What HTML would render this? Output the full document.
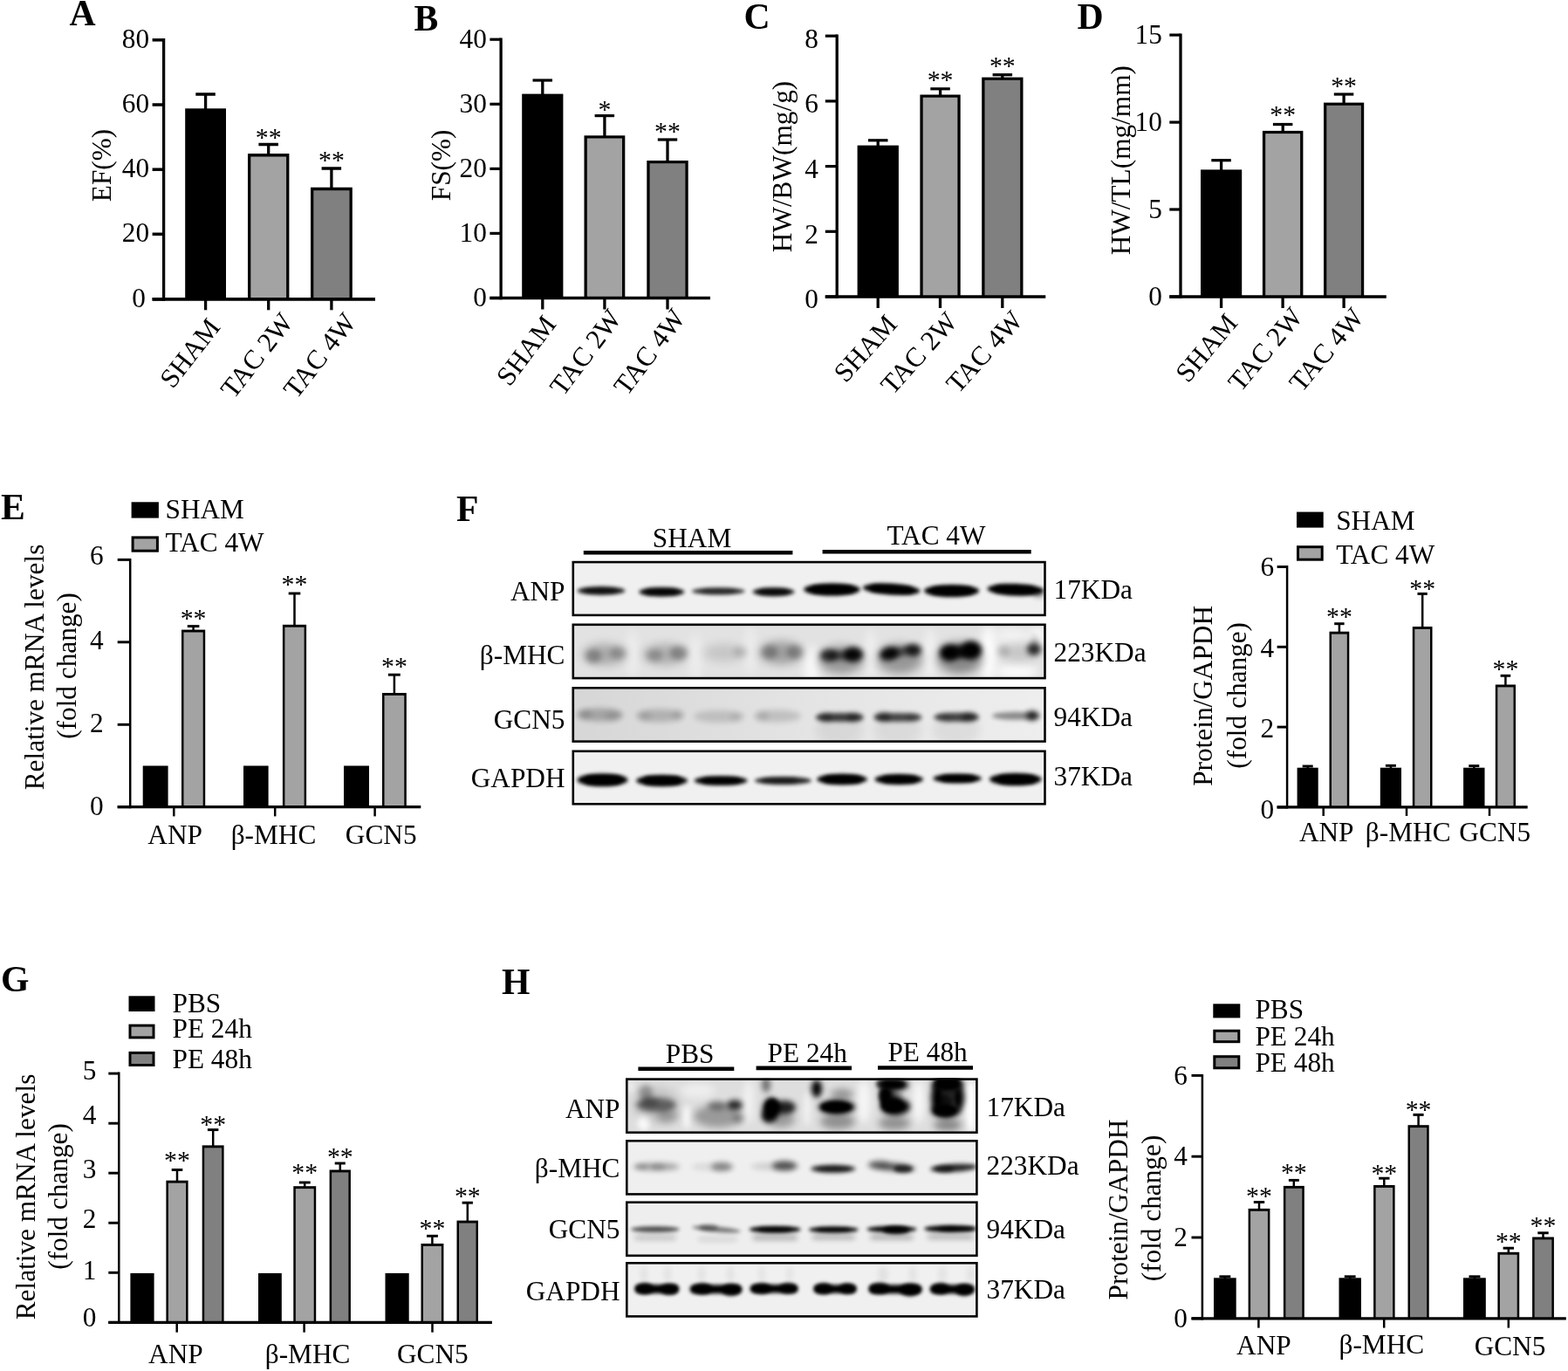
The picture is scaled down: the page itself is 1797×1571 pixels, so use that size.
<!DOCTYPE html>
<html lang="en"><head><meta charset="utf-8"><title>Figure</title>
<style>
html,body{margin:0;padding:0;background:#fff;}
body{width:1797px;height:1571px;overflow:hidden;}
svg{display:block;}
svg text{font-family:"Liberation Serif",serif;fill:#000;}
</style></head>
<body>
<svg width="1797" height="1571" viewBox="0 0 1797 1571">
<defs>
<filter id="b1" x="-50%" y="-300%" width="200%" height="700%"><feGaussianBlur stdDeviation="1.3"/></filter>
<filter id="b2" x="-50%" y="-300%" width="200%" height="700%"><feGaussianBlur stdDeviation="2"/></filter>
<filter id="b2_5" x="-50%" y="-300%" width="200%" height="700%"><feGaussianBlur stdDeviation="2.5"/></filter>
<filter id="b3" x="-80%" y="-300%" width="260%" height="700%"><feGaussianBlur stdDeviation="3"/></filter>
<filter id="b4" x="-100%" y="-300%" width="300%" height="700%"><feGaussianBlur stdDeviation="4"/></filter>
<filter id="b5" x="-150%" y="-300%" width="400%" height="700%"><feGaussianBlur stdDeviation="5.5"/></filter>
<linearGradient id="gF3" x1="0" x2="1" y1="0" y2="0"><stop offset="0" stop-color="#d6d6d6"/><stop offset="0.5" stop-color="#e4e4e4"/><stop offset="1" stop-color="#eeeeee"/></linearGradient>
</defs>
<rect width="1797" height="1571" fill="#fff"/>
<text x="79.5" y="29.0" font-size="41.7" text-anchor="start" font-weight="bold">A</text>
<line x1="235.6" y1="108.0" x2="235.6" y2="125.3" stroke="#000" stroke-width="3.3"/>
<line x1="224.3" y1="108.0" x2="246.8" y2="108.0" stroke="#000" stroke-width="3.496"/>
<rect x="212.2" y="124.3" width="46.8" height="218.5" fill="#000"/>
<line x1="307.7" y1="165.5" x2="307.7" y2="177.0" stroke="#000" stroke-width="3.3"/>
<line x1="296.4" y1="165.5" x2="318.9" y2="165.5" stroke="#000" stroke-width="3.496"/>
<rect x="284.0" y="176.0" width="47.4" height="166.8" fill="#000"/>
<rect x="287.3" y="179.5" width="40.8" height="163.3" fill="#a3a3a3"/>
<text x="307.7" y="166.9" font-size="29.8" text-anchor="middle">**</text>
<line x1="379.9" y1="193.0" x2="379.9" y2="215.7" stroke="#000" stroke-width="3.3"/>
<line x1="368.6" y1="193.0" x2="391.1" y2="193.0" stroke="#000" stroke-width="3.496"/>
<rect x="356.0" y="214.7" width="47.8" height="128.1" fill="#000"/>
<rect x="359.3" y="218.2" width="41.2" height="124.6" fill="#808080"/>
<text x="379.9" y="193.2" font-size="29.8" text-anchor="middle">**</text>
<line x1="187.6" y1="44.1" x2="187.6" y2="344.7" stroke="#000" stroke-width="3.3"/>
<line x1="174.6" y1="342.8" x2="430.0" y2="342.8" stroke="#000" stroke-width="3.8"/>
<line x1="174.6" y1="45.8" x2="187.6" y2="45.8" stroke="#000" stroke-width="3.496"/>
<text x="171.1" y="54.9" font-size="31.3" text-anchor="end">80</text>
<line x1="174.6" y1="120.0" x2="187.6" y2="120.0" stroke="#000" stroke-width="3.496"/>
<text x="171.1" y="129.1" font-size="31.3" text-anchor="end">60</text>
<line x1="174.6" y1="194.2" x2="187.6" y2="194.2" stroke="#000" stroke-width="3.496"/>
<text x="171.1" y="203.3" font-size="31.3" text-anchor="end">40</text>
<line x1="174.6" y1="268.3" x2="187.6" y2="268.3" stroke="#000" stroke-width="3.496"/>
<text x="171.1" y="277.4" font-size="31.3" text-anchor="end">20</text>
<line x1="174.6" y1="342.8" x2="187.6" y2="342.8" stroke="#000" stroke-width="3.496"/>
<text x="166.8" y="351.9" font-size="31.3" text-anchor="end">0</text>
<line x1="235.6" y1="342.8" x2="235.6" y2="355.3" stroke="#000" stroke-width="3.3"/>
<line x1="307.7" y1="342.8" x2="307.7" y2="355.3" stroke="#000" stroke-width="3.3"/>
<line x1="379.9" y1="342.8" x2="379.9" y2="355.3" stroke="#000" stroke-width="3.3"/>
<text x="126.8" y="189.5" font-size="31.3" text-anchor="middle" transform="rotate(-90 126.8 189.5)">EF(%)</text>
<text x="253.6" y="375.3" font-size="31.3" text-anchor="end" transform="rotate(-52 253.6 375.3)">SHAM</text>
<text x="337.3" y="369.1" font-size="31.3" text-anchor="end" transform="rotate(-52 337.3 369.1)">TAC 2W</text>
<text x="409.5" y="369.1" font-size="31.3" text-anchor="end" transform="rotate(-52 409.5 369.1)">TAC 4W</text>
<text x="474.5" y="35.2" font-size="41.7" text-anchor="start" font-weight="bold">B</text>
<line x1="621.8" y1="92.0" x2="621.8" y2="108.6" stroke="#000" stroke-width="3.3"/>
<line x1="610.5" y1="92.0" x2="633.0" y2="92.0" stroke="#000" stroke-width="3.22"/>
<rect x="598.2" y="107.6" width="47.2" height="233.9" fill="#000"/>
<line x1="692.9" y1="132.6" x2="692.9" y2="156.3" stroke="#000" stroke-width="3.3"/>
<line x1="681.6" y1="132.6" x2="704.1" y2="132.6" stroke="#000" stroke-width="3.22"/>
<rect x="669.5" y="155.3" width="46.8" height="186.2" fill="#000"/>
<rect x="672.8" y="158.5" width="40.2" height="183.0" fill="#a3a3a3"/>
<text x="692.9" y="135.2" font-size="29.8" text-anchor="middle">*</text>
<line x1="765.0" y1="160.0" x2="765.0" y2="185.0" stroke="#000" stroke-width="3.3"/>
<line x1="753.8" y1="160.0" x2="776.2" y2="160.0" stroke="#000" stroke-width="3.22"/>
<rect x="741.3" y="184.0" width="47.4" height="157.5" fill="#000"/>
<rect x="744.6" y="187.2" width="40.8" height="154.3" fill="#808080"/>
<text x="765.0" y="160.2" font-size="29.8" text-anchor="middle">**</text>
<line x1="574.1" y1="43.6" x2="574.1" y2="343.2" stroke="#000" stroke-width="3.3"/>
<line x1="561.4" y1="341.5" x2="814.0" y2="341.5" stroke="#000" stroke-width="3.5"/>
<line x1="561.4" y1="45.2" x2="574.1" y2="45.2" stroke="#000" stroke-width="3.22"/>
<text x="557.9" y="54.5" font-size="31.3" text-anchor="end">40</text>
<line x1="561.4" y1="119.3" x2="574.1" y2="119.3" stroke="#000" stroke-width="3.22"/>
<text x="557.9" y="128.6" font-size="31.3" text-anchor="end">30</text>
<line x1="561.4" y1="193.4" x2="574.1" y2="193.4" stroke="#000" stroke-width="3.22"/>
<text x="557.9" y="202.7" font-size="31.3" text-anchor="end">20</text>
<line x1="561.4" y1="267.4" x2="574.1" y2="267.4" stroke="#000" stroke-width="3.22"/>
<text x="557.9" y="276.7" font-size="31.3" text-anchor="end">10</text>
<line x1="561.4" y1="341.5" x2="574.1" y2="341.5" stroke="#000" stroke-width="3.22"/>
<text x="557.9" y="350.8" font-size="31.3" text-anchor="end">0</text>
<line x1="621.8" y1="341.5" x2="621.8" y2="354.5" stroke="#000" stroke-width="3.3"/>
<line x1="692.9" y1="341.5" x2="692.9" y2="354.5" stroke="#000" stroke-width="3.3"/>
<line x1="765.0" y1="341.5" x2="765.0" y2="354.5" stroke="#000" stroke-width="3.3"/>
<text x="515.7" y="189.4" font-size="31.3" text-anchor="middle" transform="rotate(-90 515.7 189.4)">FS(%)</text>
<text x="638.4" y="371.7" font-size="31.3" text-anchor="end" transform="rotate(-53 638.4 371.7)">SHAM</text>
<text x="713.4" y="365.0" font-size="31.3" text-anchor="end" transform="rotate(-53 713.4 365.0)">TAC 2W</text>
<text x="786.5" y="364.5" font-size="31.3" text-anchor="end" transform="rotate(-53 786.5 364.5)">TAC 4W</text>
<text x="852.5" y="33.4" font-size="41.7" text-anchor="start" font-weight="bold">C</text>
<line x1="1006.2" y1="160.8" x2="1006.2" y2="167.6" stroke="#000" stroke-width="3.3"/>
<line x1="995.0" y1="160.8" x2="1017.5" y2="160.8" stroke="#000" stroke-width="3.22"/>
<rect x="982.6" y="166.6" width="47.3" height="173.4" fill="#000"/>
<line x1="1077.6" y1="101.8" x2="1077.6" y2="109.5" stroke="#000" stroke-width="3.3"/>
<line x1="1066.3" y1="101.8" x2="1088.8" y2="101.8" stroke="#000" stroke-width="3.22"/>
<rect x="1054.4" y="108.5" width="46.3" height="231.5" fill="#000"/>
<rect x="1057.7" y="111.7" width="39.7" height="228.3" fill="#a3a3a3"/>
<text x="1077.6" y="101.2" font-size="29.8" text-anchor="middle">**</text>
<line x1="1148.8" y1="85.7" x2="1148.8" y2="89.6" stroke="#000" stroke-width="3.3"/>
<line x1="1137.6" y1="85.7" x2="1160.1" y2="85.7" stroke="#000" stroke-width="3.22"/>
<rect x="1125.2" y="88.6" width="47.3" height="251.4" fill="#000"/>
<rect x="1128.5" y="91.8" width="40.7" height="248.2" fill="#808080"/>
<text x="1148.8" y="84.5" font-size="29.8" text-anchor="middle">**</text>
<line x1="959.2" y1="39.6" x2="959.2" y2="341.8" stroke="#000" stroke-width="3.3"/>
<line x1="945.8" y1="340.0" x2="1198.3" y2="340.0" stroke="#000" stroke-width="3.5"/>
<line x1="945.8" y1="41.2" x2="959.2" y2="41.2" stroke="#000" stroke-width="3.22"/>
<text x="937.8" y="54.5" font-size="31.3" text-anchor="end">8</text>
<line x1="945.8" y1="115.9" x2="959.2" y2="115.9" stroke="#000" stroke-width="3.22"/>
<text x="937.8" y="129.2" font-size="31.3" text-anchor="end">6</text>
<line x1="945.8" y1="190.6" x2="959.2" y2="190.6" stroke="#000" stroke-width="3.22"/>
<text x="937.8" y="203.9" font-size="31.3" text-anchor="end">4</text>
<line x1="945.8" y1="265.3" x2="959.2" y2="265.3" stroke="#000" stroke-width="3.22"/>
<text x="937.8" y="278.6" font-size="31.3" text-anchor="end">2</text>
<line x1="945.8" y1="340.0" x2="959.2" y2="340.0" stroke="#000" stroke-width="3.22"/>
<text x="937.8" y="353.3" font-size="31.3" text-anchor="end">0</text>
<line x1="1006.2" y1="340.0" x2="1006.2" y2="353.0" stroke="#000" stroke-width="3.3"/>
<line x1="1077.5" y1="340.0" x2="1077.5" y2="353.0" stroke="#000" stroke-width="3.3"/>
<line x1="1148.8" y1="340.0" x2="1148.8" y2="353.0" stroke="#000" stroke-width="3.3"/>
<text x="906.8" y="191.0" font-size="31.3" text-anchor="middle" transform="rotate(-90 906.8 191.0)">HW/BW(mg/g)</text>
<text x="1029.7" y="372.5" font-size="31.3" text-anchor="end" transform="rotate(-48 1029.7 372.5)">SHAM</text>
<text x="1098.7" y="369.5" font-size="31.3" text-anchor="end" transform="rotate(-48 1098.7 369.5)">TAC 2W</text>
<text x="1173.8" y="368.0" font-size="31.3" text-anchor="end" transform="rotate(-48 1173.8 368.0)">TAC 4W</text>
<text x="1234.5" y="33.0" font-size="41.7" text-anchor="start" font-weight="bold">D</text>
<line x1="1399.6" y1="183.7" x2="1399.6" y2="195.4" stroke="#000" stroke-width="3.3"/>
<line x1="1388.3" y1="183.7" x2="1410.8" y2="183.7" stroke="#000" stroke-width="3.22"/>
<rect x="1376.0" y="194.4" width="47.2" height="145.6" fill="#000"/>
<line x1="1470.2" y1="142.5" x2="1470.2" y2="150.9" stroke="#000" stroke-width="3.3"/>
<line x1="1458.9" y1="142.5" x2="1481.4" y2="142.5" stroke="#000" stroke-width="3.22"/>
<rect x="1446.9" y="149.9" width="46.5" height="190.1" fill="#000"/>
<rect x="1450.2" y="153.1" width="39.9" height="186.9" fill="#a3a3a3"/>
<text x="1470.2" y="140.6" font-size="29.8" text-anchor="middle">**</text>
<line x1="1540.1" y1="108.0" x2="1540.1" y2="118.6" stroke="#000" stroke-width="3.3"/>
<line x1="1528.8" y1="108.0" x2="1551.3" y2="108.0" stroke="#000" stroke-width="3.22"/>
<rect x="1517.0" y="117.6" width="46.2" height="222.4" fill="#000"/>
<rect x="1520.3" y="120.8" width="39.6" height="219.2" fill="#808080"/>
<text x="1540.1" y="108.3" font-size="29.8" text-anchor="middle">**</text>
<line x1="1353.0" y1="38.5" x2="1353.0" y2="341.8" stroke="#000" stroke-width="3.3"/>
<line x1="1340.3" y1="340.0" x2="1588.8" y2="340.0" stroke="#000" stroke-width="3.5"/>
<line x1="1340.3" y1="40.1" x2="1353.0" y2="40.1" stroke="#000" stroke-width="3.22"/>
<text x="1331.8" y="50.3" font-size="31.3" text-anchor="end">15</text>
<line x1="1340.3" y1="140.1" x2="1353.0" y2="140.1" stroke="#000" stroke-width="3.22"/>
<text x="1331.8" y="150.3" font-size="31.3" text-anchor="end">10</text>
<line x1="1340.3" y1="240.0" x2="1353.0" y2="240.0" stroke="#000" stroke-width="3.22"/>
<text x="1331.8" y="250.2" font-size="31.3" text-anchor="end">5</text>
<line x1="1340.3" y1="340.0" x2="1353.0" y2="340.0" stroke="#000" stroke-width="3.22"/>
<text x="1331.8" y="350.2" font-size="31.3" text-anchor="end">0</text>
<line x1="1399.6" y1="340.0" x2="1399.6" y2="353.0" stroke="#000" stroke-width="3.3"/>
<line x1="1470.1" y1="340.0" x2="1470.1" y2="353.0" stroke="#000" stroke-width="3.3"/>
<line x1="1540.1" y1="340.0" x2="1540.1" y2="353.0" stroke="#000" stroke-width="3.3"/>
<text x="1294.6" y="183.7" font-size="31.3" text-anchor="middle" transform="rotate(-90 1294.6 183.7)">HW/TL(mg/mm)</text>
<text x="1419.6" y="370.7" font-size="31.3" text-anchor="end" transform="rotate(-50 1419.6 370.7)">SHAM</text>
<text x="1494.4" y="363.5" font-size="31.3" text-anchor="end" transform="rotate(-50 1494.4 363.5)">TAC 2W</text>
<text x="1564.4" y="364.0" font-size="31.3" text-anchor="end" transform="rotate(-50 1564.4 364.0)">TAC 4W</text>
<text x="1.0" y="594.5" font-size="41.7" text-anchor="start" font-weight="bold">E</text>
<rect x="152.1" y="576.8" width="28.3" height="15.3" fill="#000" stroke="#000" stroke-width="3.0"/>
<text x="189.5" y="593.6" font-size="31.3" text-anchor="start">SHAM</text>
<rect x="152.1" y="615.9" width="28.3" height="15.3" fill="#a3a3a3" stroke="#000" stroke-width="3.0"/>
<text x="189.5" y="632.1" font-size="31.3" text-anchor="start">TAC 4W</text>
<rect x="163.7" y="877.5" width="28.9" height="47.2" fill="#000"/>
<line x1="221.6" y1="717.6" x2="221.6" y2="722.6" stroke="#000" stroke-width="2.5"/>
<line x1="214.8" y1="717.6" x2="228.4" y2="717.6" stroke="#000" stroke-width="2.9440000000000004"/>
<rect x="208.0" y="721.6" width="27.2" height="203.1" fill="#000"/>
<rect x="210.5" y="724.5" width="22.2" height="200.2" fill="#a3a3a3"/>
<text x="221.6" y="718.2" font-size="29.8" text-anchor="middle">**</text>
<rect x="279.0" y="877.5" width="28.6" height="47.2" fill="#000"/>
<line x1="337.5" y1="680.0" x2="337.5" y2="716.8" stroke="#000" stroke-width="2.5"/>
<line x1="330.7" y1="680.0" x2="344.3" y2="680.0" stroke="#000" stroke-width="2.9440000000000004"/>
<rect x="323.9" y="715.8" width="27.2" height="208.9" fill="#000"/>
<rect x="326.4" y="718.7" width="22.2" height="206.0" fill="#a3a3a3"/>
<text x="337.5" y="679.2" font-size="29.8" text-anchor="middle">**</text>
<rect x="394.0" y="877.5" width="29.0" height="47.2" fill="#000"/>
<line x1="451.9" y1="773.2" x2="451.9" y2="795.0" stroke="#000" stroke-width="2.5"/>
<line x1="444.9" y1="773.2" x2="458.8" y2="773.2" stroke="#000" stroke-width="2.9440000000000004"/>
<rect x="438.0" y="794.0" width="27.8" height="130.7" fill="#000"/>
<rect x="440.5" y="796.9" width="22.8" height="127.8" fill="#a3a3a3"/>
<text x="451.9" y="772.5" font-size="29.8" text-anchor="middle">**</text>
<line x1="149.2" y1="639.9" x2="149.2" y2="926.3" stroke="#000" stroke-width="2.5"/>
<line x1="134.7" y1="924.7" x2="482.3" y2="924.7" stroke="#000" stroke-width="3.2"/>
<line x1="134.7" y1="641.4" x2="149.2" y2="641.4" stroke="#000" stroke-width="2.9440000000000004"/>
<text x="118.7" y="646.8" font-size="31.3" text-anchor="end">6</text>
<line x1="134.7" y1="735.8" x2="149.2" y2="735.8" stroke="#000" stroke-width="2.9440000000000004"/>
<text x="118.7" y="743.5" font-size="31.3" text-anchor="end">4</text>
<line x1="134.7" y1="830.3" x2="149.2" y2="830.3" stroke="#000" stroke-width="2.9440000000000004"/>
<text x="118.7" y="838.7" font-size="31.3" text-anchor="end">2</text>
<line x1="134.7" y1="924.7" x2="149.2" y2="924.7" stroke="#000" stroke-width="2.9440000000000004"/>
<text x="118.7" y="934.4" font-size="31.3" text-anchor="end">0</text>
<line x1="199.3" y1="924.7" x2="199.3" y2="935.4" stroke="#000" stroke-width="2.5"/>
<line x1="315.2" y1="924.7" x2="315.2" y2="935.4" stroke="#000" stroke-width="2.5"/>
<line x1="429.6" y1="924.7" x2="429.6" y2="935.4" stroke="#000" stroke-width="2.5"/>
<text x="200.6" y="967.3" font-size="31.3" text-anchor="middle">ANP</text>
<text x="313.5" y="967.3" font-size="31.3" text-anchor="middle">β-MHC</text>
<text x="436.7" y="967.3" font-size="31.3" text-anchor="middle">GCN5</text>
<text x="49.9" y="764.5" font-size="31.3" text-anchor="middle" transform="rotate(-90 49.9 764.5)">Relative mRNA levels</text>
<text x="87.0" y="763.0" font-size="31.3" text-anchor="middle" transform="rotate(-90 87.0 763.0)">(fold change)</text>
<rect x="1487.5" y="588.1" width="27.7" height="15.0" fill="#000" stroke="#000" stroke-width="3.0"/>
<text x="1531.2" y="607.1" font-size="31.3" text-anchor="start">SHAM</text>
<rect x="1487.5" y="626.7" width="27.7" height="14.5" fill="#a3a3a3" stroke="#000" stroke-width="3.0"/>
<text x="1531.2" y="645.7" font-size="31.3" text-anchor="start">TAC 4W</text>
<line x1="1498.7" y1="878.0" x2="1498.7" y2="880.7" stroke="#000" stroke-width="2.5"/>
<line x1="1492.7" y1="878.0" x2="1504.7" y2="878.0" stroke="#000" stroke-width="2.9440000000000004"/>
<rect x="1486.6" y="879.7" width="24.1" height="45.2" fill="#000"/>
<line x1="1534.9" y1="714.7" x2="1534.9" y2="724.7" stroke="#000" stroke-width="2.5"/>
<line x1="1529.2" y1="714.7" x2="1540.6" y2="714.7" stroke="#000" stroke-width="2.9440000000000004"/>
<rect x="1523.5" y="723.7" width="22.8" height="201.2" fill="#000"/>
<rect x="1526.0" y="726.6" width="17.8" height="198.3" fill="#a3a3a3"/>
<text x="1534.9" y="715.5" font-size="29.8" text-anchor="middle">**</text>
<line x1="1593.9" y1="877.3" x2="1593.9" y2="880.7" stroke="#000" stroke-width="2.5"/>
<line x1="1587.9" y1="877.3" x2="1599.9" y2="877.3" stroke="#000" stroke-width="2.9440000000000004"/>
<rect x="1581.8" y="879.7" width="24.2" height="45.2" fill="#000"/>
<line x1="1630.2" y1="680.4" x2="1630.2" y2="719.0" stroke="#000" stroke-width="2.5"/>
<line x1="1624.5" y1="680.4" x2="1635.8" y2="680.4" stroke="#000" stroke-width="2.9440000000000004"/>
<rect x="1618.8" y="718.0" width="22.7" height="206.9" fill="#000"/>
<rect x="1621.3" y="720.9" width="17.7" height="204.0" fill="#a3a3a3"/>
<text x="1630.2" y="683.5" font-size="29.8" text-anchor="middle">**</text>
<line x1="1689.3" y1="877.6" x2="1689.3" y2="880.7" stroke="#000" stroke-width="2.5"/>
<line x1="1683.3" y1="877.6" x2="1695.3" y2="877.6" stroke="#000" stroke-width="2.9440000000000004"/>
<rect x="1677.1" y="879.7" width="24.4" height="45.2" fill="#000"/>
<line x1="1725.4" y1="774.3" x2="1725.4" y2="785.5" stroke="#000" stroke-width="2.5"/>
<line x1="1719.6" y1="774.3" x2="1731.2" y2="774.3" stroke="#000" stroke-width="2.9440000000000004"/>
<rect x="1713.8" y="784.5" width="23.2" height="140.4" fill="#000"/>
<rect x="1716.3" y="787.4" width="18.2" height="137.5" fill="#a3a3a3"/>
<text x="1725.4" y="775.8" font-size="29.8" text-anchor="middle">**</text>
<line x1="1475.1" y1="648.0" x2="1475.1" y2="926.5" stroke="#000" stroke-width="2.5"/>
<line x1="1463.6" y1="924.9" x2="1750.7" y2="924.9" stroke="#000" stroke-width="3.2"/>
<line x1="1463.6" y1="649.5" x2="1475.1" y2="649.5" stroke="#000" stroke-width="2.9440000000000004"/>
<text x="1460.1" y="660.2" font-size="31.3" text-anchor="end">6</text>
<line x1="1463.6" y1="741.3" x2="1475.1" y2="741.3" stroke="#000" stroke-width="2.9440000000000004"/>
<text x="1460.1" y="752.5" font-size="31.3" text-anchor="end">4</text>
<line x1="1463.6" y1="833.1" x2="1475.1" y2="833.1" stroke="#000" stroke-width="2.9440000000000004"/>
<text x="1460.1" y="844.8" font-size="31.3" text-anchor="end">2</text>
<line x1="1463.6" y1="925.0" x2="1475.1" y2="925.0" stroke="#000" stroke-width="2.9440000000000004"/>
<text x="1460.1" y="937.7" font-size="31.3" text-anchor="end">0</text>
<line x1="1516.7" y1="924.9" x2="1516.7" y2="935.0" stroke="#000" stroke-width="2.5"/>
<line x1="1612.0" y1="924.9" x2="1612.0" y2="935.0" stroke="#000" stroke-width="2.5"/>
<line x1="1707.0" y1="924.9" x2="1707.0" y2="935.0" stroke="#000" stroke-width="2.5"/>
<text x="1520.2" y="963.6" font-size="31.3" text-anchor="middle">ANP</text>
<text x="1613.7" y="963.6" font-size="31.3" text-anchor="middle">β-MHC</text>
<text x="1713.2" y="963.6" font-size="31.3" text-anchor="middle">GCN5</text>
<text x="1389.3" y="797.4" font-size="31.3" text-anchor="middle" transform="rotate(-90 1389.3 797.4)">Protein/GAPDH</text>
<text x="1428.3" y="796.8" font-size="31.3" text-anchor="middle" transform="rotate(-90 1428.3 796.8)">(fold change)</text>
<text x="1.0" y="1135.5" font-size="41.7" text-anchor="start" font-weight="bold">G</text>
<rect x="149.0" y="1142.8" width="27.0" height="14.7" fill="#000" stroke="#000" stroke-width="3.0"/>
<text x="197.5" y="1159.7" font-size="31.3" text-anchor="start">PBS</text>
<rect x="149.0" y="1175.1" width="27.0" height="13.8" fill="#a3a3a3" stroke="#000" stroke-width="3.0"/>
<text x="197.5" y="1188.8" font-size="31.3" text-anchor="start">PE 24h</text>
<rect x="149.0" y="1206.4" width="27.0" height="14.1" fill="#808080" stroke="#000" stroke-width="3.0"/>
<text x="197.5" y="1223.6" font-size="31.3" text-anchor="start">PE 48h</text>
<rect x="149.4" y="1458.9" width="27.2" height="56.5" fill="#000"/>
<line x1="203.0" y1="1340.5" x2="203.0" y2="1353.7" stroke="#000" stroke-width="2.5"/>
<line x1="196.7" y1="1340.5" x2="209.3" y2="1340.5" stroke="#000" stroke-width="2.9440000000000004"/>
<rect x="190.4" y="1352.7" width="25.2" height="162.7" fill="#000"/>
<rect x="192.9" y="1355.6" width="20.2" height="159.8" fill="#a3a3a3"/>
<text x="203.0" y="1339.2" font-size="29.8" text-anchor="middle">**</text>
<line x1="244.2" y1="1294.6" x2="244.2" y2="1313.4" stroke="#000" stroke-width="2.5"/>
<line x1="237.9" y1="1294.6" x2="250.4" y2="1294.6" stroke="#000" stroke-width="2.9440000000000004"/>
<rect x="231.7" y="1312.4" width="24.9" height="203.0" fill="#000"/>
<rect x="234.2" y="1315.3" width="19.9" height="200.1" fill="#808080"/>
<text x="244.2" y="1297.8" font-size="29.8" text-anchor="middle">**</text>
<rect x="296.0" y="1458.9" width="26.8" height="56.5" fill="#000"/>
<line x1="349.2" y1="1355.0" x2="349.2" y2="1360.2" stroke="#000" stroke-width="2.5"/>
<line x1="342.8" y1="1355.0" x2="355.7" y2="1355.0" stroke="#000" stroke-width="2.9440000000000004"/>
<rect x="336.3" y="1359.2" width="25.9" height="156.2" fill="#000"/>
<rect x="338.8" y="1362.1" width="20.9" height="153.3" fill="#a3a3a3"/>
<text x="349.2" y="1352.7" font-size="29.8" text-anchor="middle">**</text>
<line x1="389.8" y1="1333.0" x2="389.8" y2="1341.5" stroke="#000" stroke-width="2.5"/>
<line x1="383.7" y1="1333.0" x2="395.8" y2="1333.0" stroke="#000" stroke-width="2.9440000000000004"/>
<rect x="377.6" y="1340.5" width="24.3" height="174.9" fill="#000"/>
<rect x="380.1" y="1343.4" width="19.3" height="172.0" fill="#808080"/>
<text x="389.8" y="1334.9" font-size="29.8" text-anchor="middle">**</text>
<rect x="441.5" y="1458.9" width="27.2" height="56.5" fill="#000"/>
<line x1="495.4" y1="1416.3" x2="495.4" y2="1426.0" stroke="#000" stroke-width="2.5"/>
<line x1="489.0" y1="1416.3" x2="501.9" y2="1416.3" stroke="#000" stroke-width="2.9440000000000004"/>
<rect x="482.5" y="1425.0" width="25.9" height="90.4" fill="#000"/>
<rect x="485.0" y="1427.9" width="20.9" height="87.5" fill="#a3a3a3"/>
<text x="495.4" y="1416.6" font-size="29.8" text-anchor="middle">**</text>
<line x1="535.8" y1="1378.2" x2="535.8" y2="1399.6" stroke="#000" stroke-width="2.5"/>
<line x1="529.6" y1="1378.2" x2="541.9" y2="1378.2" stroke="#000" stroke-width="2.9440000000000004"/>
<rect x="523.5" y="1398.6" width="24.5" height="116.8" fill="#000"/>
<rect x="526.0" y="1401.5" width="19.5" height="113.9" fill="#808080"/>
<text x="535.8" y="1379.5" font-size="29.8" text-anchor="middle">**</text>
<line x1="136.3" y1="1228.6" x2="136.3" y2="1517.0" stroke="#000" stroke-width="2.5"/>
<line x1="124.3" y1="1515.4" x2="563.9" y2="1515.4" stroke="#000" stroke-width="3.2"/>
<line x1="124.3" y1="1230.1" x2="136.3" y2="1230.1" stroke="#000" stroke-width="2.9440000000000004"/>
<text x="110.5" y="1237.3" font-size="31.3" text-anchor="end">5</text>
<line x1="124.3" y1="1287.2" x2="136.3" y2="1287.2" stroke="#000" stroke-width="2.9440000000000004"/>
<text x="110.5" y="1287.9" font-size="31.3" text-anchor="end">4</text>
<line x1="124.3" y1="1344.2" x2="136.3" y2="1344.2" stroke="#000" stroke-width="2.9440000000000004"/>
<text x="110.5" y="1349.6" font-size="31.3" text-anchor="end">3</text>
<line x1="124.3" y1="1401.3" x2="136.3" y2="1401.3" stroke="#000" stroke-width="2.9440000000000004"/>
<text x="110.5" y="1407.1" font-size="31.3" text-anchor="end">2</text>
<line x1="124.3" y1="1458.3" x2="136.3" y2="1458.3" stroke="#000" stroke-width="2.9440000000000004"/>
<text x="110.5" y="1466.3" font-size="31.3" text-anchor="end">1</text>
<line x1="124.3" y1="1515.4" x2="136.3" y2="1515.4" stroke="#000" stroke-width="2.9440000000000004"/>
<text x="110.5" y="1520.2" font-size="31.3" text-anchor="end">0</text>
<line x1="202.7" y1="1515.4" x2="202.7" y2="1526.7" stroke="#000" stroke-width="2.5"/>
<line x1="348.6" y1="1515.4" x2="348.6" y2="1526.7" stroke="#000" stroke-width="2.5"/>
<line x1="495.5" y1="1515.4" x2="495.5" y2="1526.7" stroke="#000" stroke-width="2.5"/>
<text x="201.4" y="1561.6" font-size="31.3" text-anchor="middle">ANP</text>
<text x="352.6" y="1561.6" font-size="31.3" text-anchor="middle">β-MHC</text>
<text x="495.8" y="1561.6" font-size="31.3" text-anchor="middle">GCN5</text>
<text x="39.5" y="1371.5" font-size="31.3" text-anchor="middle" transform="rotate(-90 39.5 1371.5)">Relative mRNA levels</text>
<text x="77.2" y="1371.0" font-size="31.3" text-anchor="middle" transform="rotate(-90 77.2 1371.0)">(fold change)</text>
<rect x="1391.8" y="1151.8" width="28.0" height="13.1" fill="#000" stroke="#000" stroke-width="3.0"/>
<text x="1438.4" y="1167.3" font-size="31.3" text-anchor="start">PBS</text>
<rect x="1391.8" y="1181.2" width="28.0" height="12.5" fill="#a3a3a3" stroke="#000" stroke-width="3.0"/>
<text x="1438.4" y="1197.7" font-size="31.3" text-anchor="start">PE 24h</text>
<rect x="1391.8" y="1210.7" width="28.0" height="13.1" fill="#808080" stroke="#000" stroke-width="3.0"/>
<text x="1438.4" y="1227.8" font-size="31.3" text-anchor="start">PE 48h</text>
<line x1="1403.8" y1="1462.8" x2="1403.8" y2="1465.3" stroke="#000" stroke-width="2.5"/>
<line x1="1397.4" y1="1462.8" x2="1410.3" y2="1462.8" stroke="#000" stroke-width="2.9440000000000004"/>
<rect x="1391.0" y="1464.3" width="25.7" height="46.5" fill="#000"/>
<line x1="1443.0" y1="1377.5" x2="1443.0" y2="1385.9" stroke="#000" stroke-width="2.5"/>
<line x1="1436.8" y1="1377.5" x2="1449.2" y2="1377.5" stroke="#000" stroke-width="2.9440000000000004"/>
<rect x="1430.6" y="1384.9" width="24.8" height="125.9" fill="#000"/>
<rect x="1433.1" y="1387.8" width="19.8" height="123.0" fill="#a3a3a3"/>
<text x="1443.0" y="1379.9" font-size="29.8" text-anchor="middle">**</text>
<line x1="1482.8" y1="1352.4" x2="1482.8" y2="1359.9" stroke="#000" stroke-width="2.5"/>
<line x1="1476.9" y1="1352.4" x2="1488.8" y2="1352.4" stroke="#000" stroke-width="2.9440000000000004"/>
<rect x="1470.9" y="1358.9" width="23.9" height="151.9" fill="#000"/>
<rect x="1473.4" y="1361.8" width="18.9" height="149.0" fill="#808080"/>
<text x="1482.8" y="1353.2" font-size="29.8" text-anchor="middle">**</text>
<line x1="1547.2" y1="1462.8" x2="1547.2" y2="1465.3" stroke="#000" stroke-width="2.5"/>
<line x1="1540.8" y1="1462.8" x2="1553.6" y2="1462.8" stroke="#000" stroke-width="2.9440000000000004"/>
<rect x="1534.5" y="1464.3" width="25.4" height="46.5" fill="#000"/>
<line x1="1586.3" y1="1350.2" x2="1586.3" y2="1359.0" stroke="#000" stroke-width="2.5"/>
<line x1="1580.2" y1="1350.2" x2="1592.5" y2="1350.2" stroke="#000" stroke-width="2.9440000000000004"/>
<rect x="1574.1" y="1358.0" width="24.5" height="152.8" fill="#000"/>
<rect x="1576.6" y="1360.9" width="19.5" height="149.9" fill="#a3a3a3"/>
<text x="1586.3" y="1354.1" font-size="29.8" text-anchor="middle">**</text>
<line x1="1625.6" y1="1277.4" x2="1625.6" y2="1290.2" stroke="#000" stroke-width="2.5"/>
<line x1="1619.5" y1="1277.4" x2="1631.6" y2="1277.4" stroke="#000" stroke-width="2.9440000000000004"/>
<rect x="1613.5" y="1289.2" width="24.2" height="221.6" fill="#000"/>
<rect x="1616.0" y="1292.1" width="19.2" height="218.7" fill="#808080"/>
<text x="1625.6" y="1280.7" font-size="29.8" text-anchor="middle">**</text>
<line x1="1689.9" y1="1462.8" x2="1689.9" y2="1465.3" stroke="#000" stroke-width="2.5"/>
<line x1="1683.5" y1="1462.8" x2="1696.4" y2="1462.8" stroke="#000" stroke-width="2.9440000000000004"/>
<rect x="1677.0" y="1464.3" width="25.8" height="46.5" fill="#000"/>
<line x1="1728.8" y1="1430.2" x2="1728.8" y2="1435.8" stroke="#000" stroke-width="2.5"/>
<line x1="1722.6" y1="1430.2" x2="1735.0" y2="1430.2" stroke="#000" stroke-width="2.9440000000000004"/>
<rect x="1716.4" y="1434.8" width="24.8" height="76.0" fill="#000"/>
<rect x="1718.9" y="1437.7" width="19.8" height="73.1" fill="#a3a3a3"/>
<text x="1728.8" y="1432.2" font-size="29.8" text-anchor="middle">**</text>
<line x1="1768.5" y1="1412.8" x2="1768.5" y2="1418.5" stroke="#000" stroke-width="2.5"/>
<line x1="1762.3" y1="1412.8" x2="1774.7" y2="1412.8" stroke="#000" stroke-width="2.9440000000000004"/>
<rect x="1756.1" y="1417.5" width="24.8" height="93.3" fill="#000"/>
<rect x="1758.6" y="1420.4" width="19.8" height="90.4" fill="#808080"/>
<text x="1768.5" y="1413.6" font-size="29.8" text-anchor="middle">**</text>
<line x1="1377.9" y1="1230.9" x2="1377.9" y2="1512.4" stroke="#000" stroke-width="2.5"/>
<line x1="1365.5" y1="1510.8" x2="1794.8" y2="1510.8" stroke="#000" stroke-width="3.2"/>
<line x1="1365.5" y1="1232.4" x2="1377.9" y2="1232.4" stroke="#000" stroke-width="2.9440000000000004"/>
<text x="1361.0" y="1242.6" font-size="31.3" text-anchor="end">6</text>
<line x1="1365.5" y1="1325.2" x2="1377.9" y2="1325.2" stroke="#000" stroke-width="2.9440000000000004"/>
<text x="1361.0" y="1335.4" font-size="31.3" text-anchor="end">4</text>
<line x1="1365.5" y1="1418.0" x2="1377.9" y2="1418.0" stroke="#000" stroke-width="2.9440000000000004"/>
<text x="1361.0" y="1428.2" font-size="31.3" text-anchor="end">2</text>
<line x1="1365.5" y1="1510.8" x2="1377.9" y2="1510.8" stroke="#000" stroke-width="2.9440000000000004"/>
<text x="1361.0" y="1521.0" font-size="31.3" text-anchor="end">0</text>
<line x1="1442.4" y1="1510.8" x2="1442.4" y2="1521.6" stroke="#000" stroke-width="2.5"/>
<line x1="1586.2" y1="1510.8" x2="1586.2" y2="1521.6" stroke="#000" stroke-width="2.5"/>
<line x1="1728.8" y1="1510.8" x2="1728.8" y2="1521.6" stroke="#000" stroke-width="2.5"/>
<text x="1448.4" y="1552.3" font-size="31.3" text-anchor="middle">ANP</text>
<text x="1583.3" y="1550.5" font-size="31.3" text-anchor="middle">β-MHC</text>
<text x="1730.5" y="1553.0" font-size="31.3" text-anchor="middle">GCN5</text>
<text x="1291.8" y="1386.0" font-size="31.3" text-anchor="middle" transform="rotate(-90 1291.8 1386.0)">Protein/GAPDH</text>
<text x="1329.6" y="1384.5" font-size="31.3" text-anchor="middle" transform="rotate(-90 1329.6 1384.5)">(fold change)</text>
<text x="523.0" y="597.4" font-size="41.7" text-anchor="start" font-weight="bold">F</text>
<text x="793.0" y="627.0" font-size="31.3" text-anchor="middle">SHAM</text>
<line x1="668.8" y1="633.3" x2="908.4" y2="633.3" stroke="#000" stroke-width="4.4"/>
<text x="1073.0" y="624.0" font-size="31.3" text-anchor="middle">TAC 4W</text>
<line x1="942.6" y1="632.3" x2="1181.7" y2="632.3" stroke="#000" stroke-width="4.4"/>
<text x="647.5" y="687.8" font-size="31.3" text-anchor="end">ANP</text>
<text x="647.5" y="760.8" font-size="31.3" text-anchor="end">β-MHC</text>
<text x="647.5" y="835.2" font-size="31.3" text-anchor="end">GCN5</text>
<text x="647.5" y="902.2" font-size="31.3" text-anchor="end">GAPDH</text>
<text x="1207.5" y="685.5" font-size="31.3" text-anchor="start">17KDa</text>
<text x="1207.5" y="757.6" font-size="31.3" text-anchor="start">223KDa</text>
<text x="1207.5" y="832.4" font-size="31.3" text-anchor="start">94KDa</text>
<text x="1207.5" y="900.0" font-size="31.3" text-anchor="start">37KDa</text>
<clipPath id="bc1"><rect x="655.5" y="642.8" width="543.3" height="63.4"/></clipPath>
<g clip-path="url(#bc1)">
<rect x="655.5" y="642.8" width="543.3" height="63.4" fill="#f0f0f0"/>
<ellipse cx="689.0" cy="676.9" rx="27.4" ry="4.8" fill="#000" opacity="0.9" filter="url(#b2)"/>
<ellipse cx="758.3" cy="678.2" rx="25.9" ry="5.3" fill="#000" opacity="0.95" filter="url(#b2)"/>
<ellipse cx="823.3" cy="677.4" rx="30.3" ry="4.2" fill="#000" opacity="0.8" filter="url(#b2)"/>
<ellipse cx="886.5" cy="678.2" rx="23.9" ry="5.0" fill="#000" opacity="0.93" filter="url(#b2)"/>
<ellipse cx="953.5" cy="675.5" rx="32.4" ry="7.0" fill="#000" opacity="1" filter="url(#b2)"/>
<ellipse cx="1021.7" cy="675.2" rx="32.8" ry="6.4" fill="#000" opacity="1" filter="url(#b2)" transform="rotate(3.5 1021.7 675.2)"/>
<ellipse cx="1090.6" cy="677.0" rx="31.6" ry="7.0" fill="#000" opacity="1" filter="url(#b2)"/>
<ellipse cx="1163.8" cy="675.8" rx="32.4" ry="6.7" fill="#000" opacity="1" filter="url(#b2)" transform="rotate(2 1163.8 675.8)"/>
<rect x="670.0" y="674.9" width="36.0" height="4.0" rx="2.0" fill="#000" opacity="0.5" filter="url(#b2)"/>
<rect x="740.0" y="675.7" width="36.0" height="5.0" rx="2.5" fill="#000" opacity="0.6" filter="url(#b2)"/>
<rect x="804.0" y="675.9" width="39.0" height="3.0" rx="1.5" fill="#000" opacity="0.3" filter="url(#b2)"/>
<rect x="870.0" y="676.0" width="33.0" height="4.5" rx="2.2" fill="#000" opacity="0.55" filter="url(#b2)"/>
<rect x="930.0" y="671.5" width="48.0" height="8.0" rx="4.0" fill="#000" opacity="0.8" filter="url(#b2)"/>
<rect x="998.0" y="671.7" width="48.0" height="7.0" rx="3.5" fill="#000" opacity="0.8" filter="url(#b2)" transform="rotate(3.5 1022.0 675.2)"/>
<rect x="1068.0" y="673.0" width="46.0" height="8.0" rx="4.0" fill="#000" opacity="0.8" filter="url(#b2)"/>
<rect x="1140.0" y="672.0" width="46.0" height="7.5" rx="3.8" fill="#000" opacity="0.8" filter="url(#b2)" transform="rotate(2 1163.0 675.8)"/>
<ellipse cx="1190.0" cy="680.0" rx="6.0" ry="4.0" fill="#000" opacity="0.5" filter="url(#b3)"/>
</g>
<rect x="656.8" y="644.1" width="540.7" height="60.8" fill="none" stroke="#050505" stroke-width="2.6"/>
<clipPath id="bc2"><rect x="655.5" y="714.5" width="543.3" height="63.9"/></clipPath>
<g clip-path="url(#bc2)">
<rect x="655.5" y="714.5" width="543.3" height="63.9" fill="#e2e2e2"/>
<ellipse cx="725.0" cy="750.0" rx="5.0" ry="30.0" fill="#fff" opacity="0.5" filter="url(#b5)"/>
<ellipse cx="797.0" cy="755.0" rx="6.0" ry="30.0" fill="#fff" opacity="0.45" filter="url(#b5)"/>
<ellipse cx="860.0" cy="745.0" rx="6.0" ry="30.0" fill="#fff" opacity="0.4" filter="url(#b5)"/>
<ellipse cx="930.0" cy="765.0" rx="8.0" ry="25.0" fill="#fff" opacity="0.8" filter="url(#b5)"/>
<ellipse cx="998.0" cy="750.0" rx="5.0" ry="30.0" fill="#fff" opacity="0.6" filter="url(#b5)"/>
<ellipse cx="1066.0" cy="750.0" rx="5.0" ry="30.0" fill="#fff" opacity="0.7" filter="url(#b5)"/>
<ellipse cx="1133.0" cy="750.0" rx="8.0" ry="34.0" fill="#fff" opacity="1" filter="url(#b5)"/>
<ellipse cx="1165.0" cy="770.0" rx="25.0" ry="8.0" fill="#fff" opacity="0.9" filter="url(#b5)"/>
<ellipse cx="1190.0" cy="728.0" rx="10.0" ry="10.0" fill="#fff" opacity="0.8" filter="url(#b5)"/>
<ellipse cx="1160.0" cy="728.0" rx="20.0" ry="8.0" fill="#fff" opacity="0.6" filter="url(#b5)"/>
<ellipse cx="693.0" cy="750.0" rx="25.0" ry="12.0" fill="#000" opacity="0.25" filter="url(#b5)"/>
<ellipse cx="680.0" cy="752.0" rx="9.0" ry="8.0" fill="#000" opacity="0.25" filter="url(#b3)"/>
<ellipse cx="708.0" cy="748.0" rx="9.0" ry="7.0" fill="#000" opacity="0.2" filter="url(#b3)"/>
<ellipse cx="762.0" cy="750.0" rx="25.0" ry="12.0" fill="#000" opacity="0.23" filter="url(#b5)"/>
<ellipse cx="750.0" cy="751.0" rx="9.0" ry="7.0" fill="#000" opacity="0.2" filter="url(#b3)"/>
<ellipse cx="778.0" cy="748.0" rx="10.0" ry="8.0" fill="#000" opacity="0.27" filter="url(#b3)"/>
<ellipse cx="830.0" cy="748.0" rx="24.0" ry="10.0" fill="#000" opacity="0.12" filter="url(#b5)"/>
<ellipse cx="848.0" cy="747.0" rx="8.0" ry="6.0" fill="#000" opacity="0.13" filter="url(#b3)"/>
<ellipse cx="895.0" cy="748.0" rx="25.0" ry="13.0" fill="#000" opacity="0.3" filter="url(#b5)"/>
<ellipse cx="882.0" cy="747.0" rx="9.0" ry="8.0" fill="#000" opacity="0.25" filter="url(#b3)"/>
<ellipse cx="911.0" cy="747.0" rx="9.0" ry="8.0" fill="#000" opacity="0.25" filter="url(#b3)"/>
<ellipse cx="964.0" cy="756.0" rx="26.0" ry="16.0" fill="#000" opacity="0.33" filter="url(#b5)"/>
<ellipse cx="950.0" cy="751.0" rx="10.0" ry="7.0" fill="#000" opacity="0.75" filter="url(#b3)"/>
<ellipse cx="978.0" cy="750.0" rx="11.0" ry="8.5" fill="#000" opacity="0.95" filter="url(#b3)"/>
<ellipse cx="964.0" cy="751.0" rx="14.0" ry="5.0" fill="#000" opacity="0.6" filter="url(#b3)"/>
<ellipse cx="1031.0" cy="755.0" rx="26.0" ry="17.0" fill="#000" opacity="0.33" filter="url(#b5)"/>
<ellipse cx="1019.0" cy="749.0" rx="11.0" ry="7.5" fill="#000" opacity="0.95" filter="url(#b3)" transform="rotate(-15 1019.0 749.0)"/>
<ellipse cx="1047.0" cy="745.0" rx="9.0" ry="7.0" fill="#000" opacity="0.85" filter="url(#b3)"/>
<ellipse cx="1032.0" cy="747.0" rx="14.0" ry="5.0" fill="#000" opacity="0.6" filter="url(#b3)" transform="rotate(-15 1032.0 747.0)"/>
<ellipse cx="1100.0" cy="754.0" rx="26.0" ry="18.0" fill="#000" opacity="0.4" filter="url(#b5)"/>
<ellipse cx="1088.0" cy="748.0" rx="11.0" ry="9.5" fill="#000" opacity="1" filter="url(#b3)"/>
<ellipse cx="1113.0" cy="745.0" rx="12.0" ry="10.5" fill="#000" opacity="1" filter="url(#b3)"/>
<ellipse cx="1100.0" cy="747.0" rx="12.0" ry="7.0" fill="#000" opacity="0.9" filter="url(#b3)"/>
<ellipse cx="1168.0" cy="748.0" rx="22.0" ry="10.0" fill="#000" opacity="0.12" filter="url(#b5)"/>
<ellipse cx="1150.0" cy="746.0" rx="7.0" ry="6.0" fill="#000" opacity="0.15" filter="url(#b3)"/>
<ellipse cx="1185.0" cy="744.0" rx="8.0" ry="7.0" fill="#000" opacity="0.8" filter="url(#b3)"/>
<ellipse cx="1186.0" cy="735.0" rx="4.0" ry="7.0" fill="#000" opacity="0.2" filter="url(#b3)"/>
</g>
<rect x="656.8" y="715.8" width="540.7" height="61.3" fill="none" stroke="#050505" stroke-width="2.6"/>
<clipPath id="bc3"><rect x="655.5" y="787" width="543.3" height="63.9"/></clipPath>
<g clip-path="url(#bc3)">
<rect x="655.5" y="787" width="543.3" height="63.9" fill="#e6e6e6"/>
<rect x="655" y="787" width="545" height="64" fill="url(#gF3)"/>
<ellipse cx="688.0" cy="819.0" rx="26.0" ry="7.5" fill="#000" opacity="0.24" filter="url(#b3)"/>
<ellipse cx="670.0" cy="818.5" rx="8.0" ry="6.0" fill="#000" opacity="0.13" filter="url(#b3)"/>
<ellipse cx="703.0" cy="820.5" rx="9.0" ry="6.0" fill="#000" opacity="0.11" filter="url(#b3)"/>
<ellipse cx="756.0" cy="820.0" rx="27.0" ry="7.5" fill="#000" opacity="0.19" filter="url(#b3)"/>
<ellipse cx="739.0" cy="820.5" rx="7.0" ry="5.5" fill="#000" opacity="0.1" filter="url(#b3)"/>
<ellipse cx="777.0" cy="819.0" rx="7.0" ry="6.0" fill="#000" opacity="0.1" filter="url(#b3)"/>
<ellipse cx="824.0" cy="821.0" rx="29.0" ry="7.0" fill="#000" opacity="0.14" filter="url(#b3)"/>
<ellipse cx="843.0" cy="821.5" rx="7.0" ry="5.5" fill="#000" opacity="0.08" filter="url(#b3)"/>
<ellipse cx="891.0" cy="820.5" rx="27.0" ry="7.0" fill="#000" opacity="0.15" filter="url(#b3)"/>
<ellipse cx="874.0" cy="820.5" rx="7.0" ry="6.0" fill="#000" opacity="0.1" filter="url(#b3)"/>
<ellipse cx="962.1" cy="822.0" rx="27.5" ry="5.0" fill="#000" opacity="0.72" filter="url(#b2_5)"/>
<ellipse cx="946.0" cy="822.0" rx="8.0" ry="5.0" fill="#000" opacity="0.45" filter="url(#b3)"/>
<ellipse cx="979.0" cy="822.0" rx="9.0" ry="5.0" fill="#000" opacity="0.5" filter="url(#b3)"/>
<ellipse cx="1029.1" cy="822.0" rx="27.5" ry="5.0" fill="#000" opacity="0.68" filter="url(#b2_5)"/>
<ellipse cx="1012.0" cy="821.5" rx="9.0" ry="5.0" fill="#000" opacity="0.55" filter="url(#b3)"/>
<ellipse cx="1046.0" cy="822.0" rx="8.0" ry="4.5" fill="#000" opacity="0.3" filter="url(#b3)"/>
<ellipse cx="1096.0" cy="821.8" rx="26.0" ry="5.0" fill="#000" opacity="0.7" filter="url(#b2_5)"/>
<ellipse cx="1111.0" cy="821.5" rx="9.0" ry="5.0" fill="#000" opacity="0.55" filter="url(#b3)"/>
<ellipse cx="1082.0" cy="822.0" rx="8.0" ry="4.5" fill="#000" opacity="0.25" filter="url(#b3)"/>
<ellipse cx="1164.5" cy="820.3" rx="27.5" ry="4.5" fill="#000" opacity="0.42" filter="url(#b2_5)"/>
<ellipse cx="1183.0" cy="820.0" rx="7.0" ry="5.5" fill="#000" opacity="0.8" filter="url(#b3)"/>
<ellipse cx="962.0" cy="836.0" rx="27.0" ry="18.0" fill="#000" opacity="0.06" filter="url(#b5)"/>
<ellipse cx="1029.0" cy="836.0" rx="27.0" ry="18.0" fill="#000" opacity="0.06" filter="url(#b5)"/>
<ellipse cx="1096.0" cy="836.0" rx="27.0" ry="18.0" fill="#000" opacity="0.06" filter="url(#b5)"/>
</g>
<rect x="656.8" y="788.3" width="540.7" height="61.3" fill="none" stroke="#050505" stroke-width="2.6"/>
<clipPath id="bc4"><rect x="655.5" y="859.5" width="543.3" height="63.1"/></clipPath>
<g clip-path="url(#bc4)">
<rect x="655.5" y="859.5" width="543.3" height="63.1" fill="#f0f0f0"/>
<ellipse cx="690.5" cy="893.7" rx="29.1" ry="7.3" fill="#000" opacity="1" filter="url(#b2)"/>
<ellipse cx="758.5" cy="894.5" rx="29.5" ry="6.4" fill="#000" opacity="1" filter="url(#b2)"/>
<ellipse cx="826.1" cy="894.5" rx="30.6" ry="5.3" fill="#000" opacity="1" filter="url(#b2)"/>
<ellipse cx="897.4" cy="894.5" rx="32.6" ry="4.5" fill="#000" opacity="0.85" filter="url(#b2)"/>
<ellipse cx="965.0" cy="893.0" rx="29.0" ry="6.2" fill="#000" opacity="1" filter="url(#b2)"/>
<ellipse cx="1030.2" cy="893.0" rx="27.8" ry="5.9" fill="#000" opacity="1" filter="url(#b2)"/>
<ellipse cx="1097.2" cy="892.0" rx="27.8" ry="5.3" fill="#000" opacity="1" filter="url(#b2)"/>
<ellipse cx="1163.8" cy="893.0" rx="29.9" ry="7.0" fill="#000" opacity="1" filter="url(#b2)"/>
<rect x="670.0" y="889.2" width="42.0" height="9.0" rx="4.5" fill="#000" opacity="0.9" filter="url(#b2)"/>
<rect x="738.0" y="890.5" width="42.0" height="8.0" rx="4.0" fill="#000" opacity="0.9" filter="url(#b2)"/>
<rect x="805.0" y="891.8" width="43.0" height="5.5" rx="2.8" fill="#000" opacity="0.7" filter="url(#b2)"/>
<rect x="874.0" y="892.2" width="39.0" height="4.0" rx="2.0" fill="#000" opacity="0.4" filter="url(#b2)"/>
<rect x="945.0" y="889.5" width="41.0" height="7.0" rx="3.5" fill="#000" opacity="0.8" filter="url(#b2)"/>
<rect x="1012.0" y="889.8" width="38.0" height="6.5" rx="3.2" fill="#000" opacity="0.8" filter="url(#b2)"/>
<rect x="1079.0" y="889.0" width="38.0" height="6.0" rx="3.0" fill="#000" opacity="0.8" filter="url(#b2)"/>
<rect x="1144.0" y="889.0" width="42.0" height="8.5" rx="4.2" fill="#000" opacity="0.9" filter="url(#b2)"/>
</g>
<rect x="656.8" y="860.8" width="540.7" height="60.5" fill="none" stroke="#050505" stroke-width="2.6"/>
<text x="575.0" y="1139.0" font-size="41.7" text-anchor="start" font-weight="bold">H</text>
<text x="790.6" y="1218.0" font-size="31.3" text-anchor="middle">PBS</text>
<line x1="731.4" y1="1224.7" x2="841.3" y2="1224.7" stroke="#000" stroke-width="4.6"/>
<text x="925.2" y="1216.9" font-size="31.3" text-anchor="middle">PE 24h</text>
<line x1="866.6" y1="1223.9" x2="976.0" y2="1223.9" stroke="#000" stroke-width="4.6"/>
<text x="1063.1" y="1216.0" font-size="31.3" text-anchor="middle">PE 48h</text>
<line x1="1006.0" y1="1223.5" x2="1115.0" y2="1223.5" stroke="#000" stroke-width="4.6"/>
<text x="710.5" y="1281.1" font-size="31.3" text-anchor="end">ANP</text>
<text x="710.5" y="1349.3" font-size="31.3" text-anchor="end">β-MHC</text>
<text x="710.5" y="1419.4" font-size="31.3" text-anchor="end">GCN5</text>
<text x="710.5" y="1489.5" font-size="31.3" text-anchor="end">GAPDH</text>
<text x="1130.5" y="1279.2" font-size="31.3" text-anchor="start">17KDa</text>
<text x="1130.5" y="1346.2" font-size="31.3" text-anchor="start">223KDa</text>
<text x="1130.5" y="1419.4" font-size="31.3" text-anchor="start">94KDa</text>
<text x="1130.5" y="1487.6" font-size="31.3" text-anchor="start">37KDa</text>
<clipPath id="bc5"><rect x="717" y="1235.3" width="403.7" height="63.7"/></clipPath>
<g clip-path="url(#bc5)">
<rect x="717" y="1235.3" width="403.7" height="63.7" fill="#dedede"/>
<ellipse cx="738.0" cy="1286.0" rx="7.0" ry="9.0" fill="#fff" opacity="1" filter="url(#b3)"/>
<ellipse cx="787.0" cy="1280.0" rx="4.0" ry="14.0" fill="#fff" opacity="0.8" filter="url(#b3)"/>
<ellipse cx="722.0" cy="1245.0" rx="4.0" ry="8.0" fill="#fff" opacity="0.5" filter="url(#b3)"/>
<ellipse cx="858.0" cy="1262.0" rx="6.0" ry="25.0" fill="#fff" opacity="0.6" filter="url(#b4)"/>
<ellipse cx="990.0" cy="1262.0" rx="8.0" ry="25.0" fill="#fff" opacity="0.7" filter="url(#b4)"/>
<ellipse cx="1053.0" cy="1262.0" rx="6.0" ry="25.0" fill="#fff" opacity="0.8" filter="url(#b4)"/>
<ellipse cx="1113.0" cy="1268.0" rx="6.0" ry="30.0" fill="#fff" opacity="1" filter="url(#b3)"/>
<ellipse cx="925.0" cy="1270.0" rx="4.0" ry="20.0" fill="#fff" opacity="0.6" filter="url(#b3)"/>
<ellipse cx="800.0" cy="1250.0" rx="20.0" ry="8.0" fill="#fff" opacity="0.5" filter="url(#b4)"/>
<ellipse cx="752.0" cy="1266.0" rx="23.0" ry="8.0" fill="#000" opacity="0.5" filter="url(#b3)"/>
<ellipse cx="740.0" cy="1252.0" rx="8.0" ry="9.0" fill="#000" opacity="0.3" filter="url(#b3)"/>
<ellipse cx="765.0" cy="1279.0" rx="12.0" ry="8.0" fill="#000" opacity="0.25" filter="url(#b4)"/>
<ellipse cx="745.0" cy="1263.0" rx="10.0" ry="6.0" fill="#000" opacity="0.25" filter="url(#b3)"/>
<ellipse cx="752.0" cy="1266.0" rx="26.0" ry="20.0" fill="#000" opacity="0.12" filter="url(#b5)"/>
<ellipse cx="823.0" cy="1279.0" rx="28.0" ry="13.0" fill="#000" opacity="0.3" filter="url(#b4)"/>
<ellipse cx="842.0" cy="1266.2" rx="9.0" ry="6.0" fill="#000" opacity="0.8" filter="url(#b3)"/>
<ellipse cx="822.0" cy="1267.0" rx="11.0" ry="5.0" fill="#000" opacity="0.4" filter="url(#b3)"/>
<ellipse cx="846.0" cy="1282.0" rx="6.0" ry="5.0" fill="#000" opacity="0.25" filter="url(#b3)"/>
<ellipse cx="884.0" cy="1271.0" rx="10.0" ry="13.0" fill="#000" opacity="1" filter="url(#b3)"/>
<ellipse cx="880.0" cy="1279.0" rx="7.0" ry="7.0" fill="#000" opacity="0.9" filter="url(#b3)"/>
<ellipse cx="899.0" cy="1269.0" rx="13.0" ry="8.0" fill="#000" opacity="0.85" filter="url(#b3)"/>
<ellipse cx="878.0" cy="1243.0" rx="5.0" ry="9.0" fill="#000" opacity="0.5" filter="url(#b3)"/>
<ellipse cx="895.0" cy="1283.0" rx="16.0" ry="9.0" fill="#000" opacity="0.3" filter="url(#b4)"/>
<ellipse cx="885.0" cy="1268.0" rx="8.0" ry="9.0" fill="#000" opacity="0.9" filter="url(#b2)"/>
<ellipse cx="936.0" cy="1247.5" rx="6.0" ry="10.0" fill="#000" opacity="1" filter="url(#b3)"/>
<ellipse cx="959.0" cy="1268.6" rx="21.0" ry="8.0" fill="#000" opacity="1" filter="url(#b3)"/>
<ellipse cx="958.0" cy="1268.6" rx="17.0" ry="6.0" fill="#000" opacity="1" filter="url(#b2)"/>
<ellipse cx="960.0" cy="1285.0" rx="20.0" ry="9.0" fill="#000" opacity="0.35" filter="url(#b4)"/>
<ellipse cx="965.0" cy="1254.0" rx="13.0" ry="6.0" fill="#000" opacity="0.35" filter="url(#b4)"/>
<ellipse cx="1024.0" cy="1243.0" rx="17.0" ry="7.0" fill="#000" opacity="1" filter="url(#b3)"/>
<ellipse cx="1026.0" cy="1268.0" rx="17.0" ry="10.0" fill="#000" opacity="1" filter="url(#b3)"/>
<ellipse cx="1022.0" cy="1266.0" rx="12.0" ry="8.0" fill="#000" opacity="1" filter="url(#b2)"/>
<ellipse cx="1016.0" cy="1255.0" rx="8.0" ry="11.0" fill="#000" opacity="1" filter="url(#b3)"/>
<ellipse cx="1013.0" cy="1256.0" rx="5.0" ry="9.0" fill="#000" opacity="0.9" filter="url(#b2)"/>
<ellipse cx="1024.0" cy="1256.0" rx="10.0" ry="6.0" fill="#000" opacity="0.5" filter="url(#b3)"/>
<ellipse cx="1025.0" cy="1287.0" rx="18.0" ry="8.0" fill="#000" opacity="0.35" filter="url(#b4)"/>
<ellipse cx="1012.0" cy="1242.0" rx="8.0" ry="5.0" fill="#000" opacity="0.7" filter="url(#b2)"/>
<ellipse cx="1024.0" cy="1242.0" rx="12.0" ry="4.0" fill="#000" opacity="0.9" filter="url(#b2)"/>
<ellipse cx="1086.0" cy="1243.0" rx="18.0" ry="10.0" fill="#000" opacity="1" filter="url(#b3)"/>
<ellipse cx="1075.0" cy="1258.0" rx="8.0" ry="16.0" fill="#000" opacity="1" filter="url(#b3)"/>
<ellipse cx="1084.0" cy="1272.0" rx="17.0" ry="9.0" fill="#000" opacity="1" filter="url(#b3)"/>
<ellipse cx="1098.0" cy="1258.0" rx="7.0" ry="14.0" fill="#000" opacity="1" filter="url(#b3)"/>
<ellipse cx="1086.0" cy="1240.0" rx="14.0" ry="6.0" fill="#000" opacity="1" filter="url(#b2)"/>
<ellipse cx="1086.0" cy="1289.0" rx="16.0" ry="7.0" fill="#000" opacity="0.4" filter="url(#b4)"/>
<ellipse cx="1083.0" cy="1273.0" rx="12.0" ry="6.0" fill="#000" opacity="1" filter="url(#b2)"/>
<ellipse cx="1087.0" cy="1258.0" rx="9.0" ry="10.0" fill="#000" opacity="0.75" filter="url(#b3)"/>
<ellipse cx="1083.0" cy="1262.0" rx="8.0" ry="8.0" fill="#000" opacity="0.6" filter="url(#b2)"/>
</g>
<rect x="718.3" y="1236.6" width="401.1" height="61.1" fill="none" stroke="#050505" stroke-width="2.6"/>
<clipPath id="bc6"><rect x="717" y="1306" width="403.7" height="63.7"/></clipPath>
<g clip-path="url(#bc6)">
<rect x="717" y="1306" width="403.7" height="63.7" fill="#efefef"/>
<ellipse cx="752.1" cy="1336.9" rx="26.7" ry="4.5" fill="#000" opacity="0.33" filter="url(#b3)"/>
<ellipse cx="735.0" cy="1337.0" rx="7.0" ry="4.0" fill="#000" opacity="0.12" filter="url(#b2)"/>
<ellipse cx="754.0" cy="1337.0" rx="8.0" ry="4.0" fill="#000" opacity="0.12" filter="url(#b2)"/>
<ellipse cx="817.5" cy="1337.0" rx="25.5" ry="3.9" fill="#000" opacity="0.1" filter="url(#b3)"/>
<ellipse cx="827.0" cy="1337.0" rx="12.0" ry="5.0" fill="#000" opacity="0.4" filter="url(#b3)"/>
<ellipse cx="888.4" cy="1336.5" rx="28.4" ry="3.9" fill="#000" opacity="0.15" filter="url(#b3)"/>
<ellipse cx="899.0" cy="1335.8" rx="14.0" ry="5.5" fill="#000" opacity="0.62" filter="url(#b3)"/>
<ellipse cx="954.8" cy="1339.3" rx="25.5" ry="4.5" fill="#000" opacity="0.85" filter="url(#b2_5)"/>
<rect x="938.0" y="1337.5" width="35.0" height="3.5" rx="1.8" fill="#000" opacity="0.4" filter="url(#b2)"/>
<ellipse cx="1021.9" cy="1337.0" rx="27.3" ry="4.5" fill="#000" opacity="0.65" filter="url(#b3)" transform="rotate(5 1021.9 1337.0)"/>
<ellipse cx="1035.0" cy="1339.5" rx="11.0" ry="4.2" fill="#000" opacity="0.7" filter="url(#b2)"/>
<ellipse cx="1008.0" cy="1334.0" rx="11.0" ry="5.0" fill="#000" opacity="0.2" filter="url(#b3)"/>
<ellipse cx="1093.0" cy="1338.3" rx="27.0" ry="4.5" fill="#000" opacity="0.85" filter="url(#b2_5)" transform="rotate(-3 1093.0 1338.3)"/>
<ellipse cx="1082.0" cy="1339.5" rx="11.0" ry="4.0" fill="#000" opacity="0.5" filter="url(#b2)"/>
</g>
<rect x="718.3" y="1307.3" width="401.1" height="61.1" fill="none" stroke="#050505" stroke-width="2.6"/>
<clipPath id="bc7"><rect x="717" y="1376.4" width="403.7" height="63.7"/></clipPath>
<g clip-path="url(#bc7)">
<rect x="717" y="1376.4" width="403.7" height="63.7" fill="#eeeeee"/>
<ellipse cx="750.9" cy="1408.6" rx="27.9" ry="3.4" fill="#000" opacity="0.68" filter="url(#b2)"/>
<rect x="727.0" y="1415.4" width="47.8" height="5.0" rx="2.5" fill="#000" opacity="0.22" filter="url(#b3)"/>
<ellipse cx="821.0" cy="1408.6" rx="28.0" ry="3.1" fill="#000" opacity="0.5" filter="url(#b2)" transform="rotate(5 821.0 1408.6)"/>
<ellipse cx="812.0" cy="1406.5" rx="11.0" ry="3.5" fill="#000" opacity="0.35" filter="url(#b2)"/>
<rect x="800.0" y="1418.0" width="45.0" height="4.0" rx="2.0" fill="#000" opacity="0.15" filter="url(#b3)"/>
<ellipse cx="888.2" cy="1408.8" rx="29.6" ry="3.9" fill="#000" opacity="1" filter="url(#b2)"/>
<rect x="870.0" y="1407.3" width="36.0" height="3.0" rx="1.5" fill="#000" opacity="0.6" filter="url(#b2)"/>
<rect x="862.6" y="1415.5" width="51.2" height="5.0" rx="2.5" fill="#000" opacity="0.33" filter="url(#b3)"/>
<ellipse cx="955.3" cy="1409.0" rx="28.4" ry="3.6" fill="#000" opacity="1" filter="url(#b2)"/>
<rect x="937.0" y="1407.8" width="36.0" height="2.5" rx="1.2" fill="#000" opacity="0.5" filter="url(#b2)"/>
<rect x="930.9" y="1415.0" width="48.9" height="5.0" rx="2.5" fill="#000" opacity="0.3" filter="url(#b3)"/>
<ellipse cx="1022.0" cy="1408.5" rx="28.5" ry="3.6" fill="#000" opacity="1" filter="url(#b2)"/>
<ellipse cx="1027.0" cy="1409.5" rx="15.0" ry="4.5" fill="#000" opacity="0.9" filter="url(#b2)"/>
<rect x="997.5" y="1415.0" width="48.9" height="5.0" rx="2.5" fill="#000" opacity="0.33" filter="url(#b3)"/>
<ellipse cx="1089.5" cy="1408.0" rx="30.5" ry="3.9" fill="#000" opacity="1" filter="url(#b2)"/>
<rect x="1077.0" y="1406.5" width="38.0" height="3.0" rx="1.5" fill="#000" opacity="0.8" filter="url(#b2)"/>
<rect x="1063.0" y="1414.5" width="53.0" height="5.0" rx="2.5" fill="#000" opacity="0.3" filter="url(#b3)"/>
</g>
<rect x="718.3" y="1377.7" width="401.1" height="61.1" fill="none" stroke="#050505" stroke-width="2.6"/>
<clipPath id="bc8"><rect x="717" y="1446" width="403.7" height="63.7"/></clipPath>
<g clip-path="url(#bc8)">
<rect x="717" y="1446" width="403.7" height="63.7" fill="#f0f0f0"/>
<ellipse cx="738.0" cy="1460.0" rx="4.0" ry="10.0" fill="#000" opacity="0.06" filter="url(#b3)"/>
<ellipse cx="765.0" cy="1460.0" rx="4.0" ry="10.0" fill="#000" opacity="0.06" filter="url(#b3)"/>
<ellipse cx="804.0" cy="1460.0" rx="4.0" ry="10.0" fill="#000" opacity="0.06" filter="url(#b3)"/>
<ellipse cx="837.0" cy="1460.0" rx="4.0" ry="10.0" fill="#000" opacity="0.06" filter="url(#b3)"/>
<ellipse cx="873.0" cy="1460.0" rx="4.0" ry="10.0" fill="#000" opacity="0.05" filter="url(#b3)"/>
<ellipse cx="905.0" cy="1460.0" rx="4.0" ry="10.0" fill="#000" opacity="0.05" filter="url(#b3)"/>
<ellipse cx="1012.0" cy="1460.0" rx="6.0" ry="10.0" fill="#000" opacity="0.06" filter="url(#b3)"/>
<ellipse cx="1046.0" cy="1460.0" rx="4.0" ry="10.0" fill="#000" opacity="0.06" filter="url(#b3)"/>
<ellipse cx="1080.0" cy="1460.0" rx="5.0" ry="10.0" fill="#000" opacity="0.05" filter="url(#b3)"/>
<ellipse cx="1112.0" cy="1460.0" rx="4.0" ry="10.0" fill="#000" opacity="0.06" filter="url(#b3)"/>
<rect x="727.5" y="1471.9" width="50.3" height="10.0" rx="5.0" fill="#000" opacity="1" filter="url(#b2)"/>
<rect x="790.6" y="1472.2" width="59.6" height="10.0" rx="5.0" fill="#000" opacity="1" filter="url(#b2)"/>
<rect x="859.6" y="1472.0" width="54.9" height="9.5" rx="4.8" fill="#000" opacity="1" filter="url(#b2)"/>
<rect x="932.5" y="1472.2" width="49.1" height="9.5" rx="4.8" fill="#000" opacity="1" filter="url(#b2)"/>
<rect x="995.6" y="1472.2" width="60.8" height="10.0" rx="5.0" fill="#000" opacity="1" filter="url(#b2)"/>
<rect x="1065.8" y="1472.2" width="51.2" height="10.0" rx="5.0" fill="#000" opacity="1" filter="url(#b2)"/>
<ellipse cx="739.0" cy="1476.6" rx="10.0" ry="6.3" fill="#000" opacity="0.95" filter="url(#b2)"/>
<ellipse cx="767.0" cy="1477.3" rx="10.0" ry="6.3" fill="#000" opacity="0.95" filter="url(#b2)"/>
<ellipse cx="805.0" cy="1476.8" rx="11.0" ry="6.3" fill="#000" opacity="0.95" filter="url(#b2)"/>
<ellipse cx="838.0" cy="1478.0" rx="11.0" ry="6.8" fill="#000" opacity="0.95" filter="url(#b2)"/>
<ellipse cx="873.0" cy="1476.5" rx="11.0" ry="6.0" fill="#000" opacity="0.95" filter="url(#b2)"/>
<ellipse cx="903.0" cy="1476.2" rx="10.0" ry="6.0" fill="#000" opacity="0.9" filter="url(#b2)"/>
<ellipse cx="944.0" cy="1476.6" rx="10.0" ry="6.3" fill="#000" opacity="0.95" filter="url(#b2)"/>
<ellipse cx="971.0" cy="1476.6" rx="9.0" ry="6.0" fill="#000" opacity="0.95" filter="url(#b2)"/>
<ellipse cx="1008.0" cy="1476.3" rx="11.0" ry="6.3" fill="#000" opacity="0.95" filter="url(#b2)"/>
<ellipse cx="1043.0" cy="1478.0" rx="12.0" ry="7.2" fill="#000" opacity="1" filter="url(#b2)"/>
<ellipse cx="1078.0" cy="1476.6" rx="10.0" ry="6.3" fill="#000" opacity="0.95" filter="url(#b2)"/>
<ellipse cx="1105.0" cy="1478.0" rx="10.0" ry="6.8" fill="#000" opacity="1" filter="url(#b2)"/>
</g>
<rect x="718.3" y="1447.3" width="401.1" height="61.1" fill="none" stroke="#050505" stroke-width="2.6"/>
</svg>
</body></html>
